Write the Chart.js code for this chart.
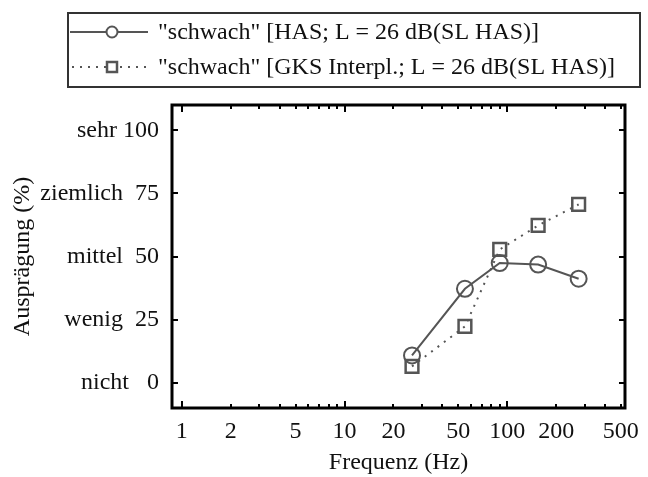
<!DOCTYPE html>
<html>
<head>
<meta charset="utf-8">
<script src="https://cdn.jsdelivr.net/npm/chart.js@4.4.0/dist/chart.umd.min.js"></script>
<style>
  html, body { margin: 0; padding: 0; background: #fff; }
  #wrap { width: 648px; height: 477px; }
</style>
</head>
<body>
<div id="wrap"><canvas id="chart" width="648" height="477"></canvas></div>
<script>
// values
const freqHAS = [26, 55, 90, 155, 275];
const valHAS = [10.8, 37.2, 47.4, 46.8, 41.2];
const freqGKS = [26, 55, 90, 155, 275];
const valGKS = [6.5, 22.3, 52.8, 62.3, 70.6];

const xTicks = [1, 2, 5, 10, 20, 50, 100, 200, 500];
const yTicks = [0, 25, 50, 75, 100];
const yTickLabels = ["nicht   0", "wenig  25", "mittel  50", "ziemlich  75", "sehr 100"];
const legendLabels = [
  '"schwach" [HAS; L = 26 dB(SL HAS)]',
  '"schwach" [GKS Interpl.; L = 26 dB(SL HAS)]'
];

const FONT = "'Liberation Serif', 'Times New Roman', serif";
const GRAY = "#555";
const TEXT = "#111";

// minor ticks of the log axis: 1..9 in each decade
const xMinor = [];
for (let d = 1; d <= 100; d *= 10) {
  for (let k = 1; k <= 9; k++) if (k * d <= 500) xMinor.push(k * d);
}

// frame, inward ticks and boxed legend
const framePlugin = {
  id: "frame",
  afterDraw(chart) {
    const c = chart.ctx;
    const a = chart.chartArea;
    const xs = chart.scales.x, ys = chart.scales.y;
    c.save();
    c.strokeStyle = "#000";
    c.lineWidth = 2;
    xMinor.forEach((v) => {
      const px = Math.round(xs.getPixelForValue(v));
      const len = [1, 10, 100].includes(v) ? 7 : 4;
      c.beginPath();
      c.moveTo(px, a.bottom); c.lineTo(px, a.bottom - len);
      c.moveTo(px, a.top); c.lineTo(px, a.top + len);
      c.stroke();
    });
    yTicks.forEach((v) => {
      const py = Math.round(ys.getPixelForValue(v));
      c.beginPath();
      c.moveTo(a.left, py); c.lineTo(a.left + 6, py);
      c.moveTo(a.right, py); c.lineTo(a.right - 6, py);
      c.stroke();
    });
    c.lineWidth = 3;
    c.strokeRect(a.left, a.top, a.right - a.left, a.bottom - a.top);

    // legend
    c.lineWidth = 2;
    c.strokeStyle = "#333";
    c.strokeRect(68, 13, 572, 74);
    c.strokeStyle = GRAY;
    c.beginPath();
    c.moveTo(70, 32); c.lineTo(148, 32);
    c.stroke();
    c.fillStyle = "#fff";
    c.beginPath();
    c.arc(112, 32, 5.5, 0, Math.PI * 2);
    c.fill(); c.stroke();
    c.setLineDash([2, 6]);
    c.beginPath();
    c.moveTo(72, 67); c.lineTo(150, 67);
    c.stroke();
    c.setLineDash([]);
    c.lineWidth = 2.5;
    c.fillRect(107, 62, 10, 10);
    c.strokeRect(107, 62, 10, 10);

    c.fillStyle = TEXT;
    c.font = "24px " + FONT;
    c.textBaseline = "middle";
    c.fillText(legendLabels[0], 158, 33);
    c.fillText(legendLabels[1], 158, 68);
    c.restore();
  }
};

const ctx = document.getElementById("chart").getContext("2d");
new Chart(ctx, {
  type: "line",
  data: {
    datasets: [
      {
        label: legendLabels[0],
        data: freqHAS.map((f, i) => ({ x: f, y: valHAS[i] })),
        borderColor: GRAY,
        borderWidth: 2,
        pointStyle: "circle",
        pointRadius: 8,
        pointBorderWidth: 2,
        pointBorderColor: GRAY,
        pointBackgroundColor: "rgba(0,0,0,0)",
        tension: 0
      },
      {
        label: legendLabels[1],
        data: freqGKS.map((f, i) => ({ x: f, y: valGKS[i] })),
        borderColor: GRAY,
        borderWidth: 2,
        borderDash: [2, 6],
        pointStyle: "rect",
        pointRadius: 9,
        pointBorderWidth: 2.5,
        pointBorderColor: GRAY,
        pointBackgroundColor: "rgba(0,0,0,0)",
        tension: 0
      }
    ]
  },
  options: {
    responsive: false,
    animation: false,
    layout: { padding: { left: 0, right: 14, top: 105, bottom: 0 } },
    plugins: {
      legend: { display: false },
      tooltip: { enabled: false }
    },
    scales: {
      x: {
        type: "logarithmic",
        min: 0.87,
        max: 530,
        grid: { display: false, drawTicks: false },
        border: { display: false },
        afterBuildTicks: (s) => { s.ticks = xTicks.map((v) => ({ value: v })); },
        afterFit: (s) => { s.height = 69; },
        ticks: {
          font: { family: FONT, size: 24 },
          color: TEXT,
          padding: 9,
          maxRotation: 0,
          autoSkip: false,
          callback: (v) => String(v)
        },
        title: {
          display: true,
          text: "Frequenz (Hz)",
          font: { family: FONT, size: 24 },
          color: TEXT,
          padding: { top: 0, bottom: 0 }
        }
      },
      y: {
        min: -10,
        max: 110,
        grid: { display: false, drawTicks: false },
        border: { display: false },
        afterBuildTicks: (s) => { s.ticks = yTicks.map((v) => ({ value: v })); },
        afterFit: (s) => { s.width = 172; },
        ticks: {
          font: { family: FONT, size: 24 },
          color: TEXT,
          padding: 13,
          callback: (v) => yTickLabels[yTicks.indexOf(v)]
        },
        title: {
          display: true,
          text: "Ausprägung (%)",
          font: { family: FONT, size: 24 },
          color: TEXT,
          padding: { top: 8, bottom: 0 }
        }
      }
    }
  },
  plugins: [framePlugin]
});
</script>
</body>
</html>
